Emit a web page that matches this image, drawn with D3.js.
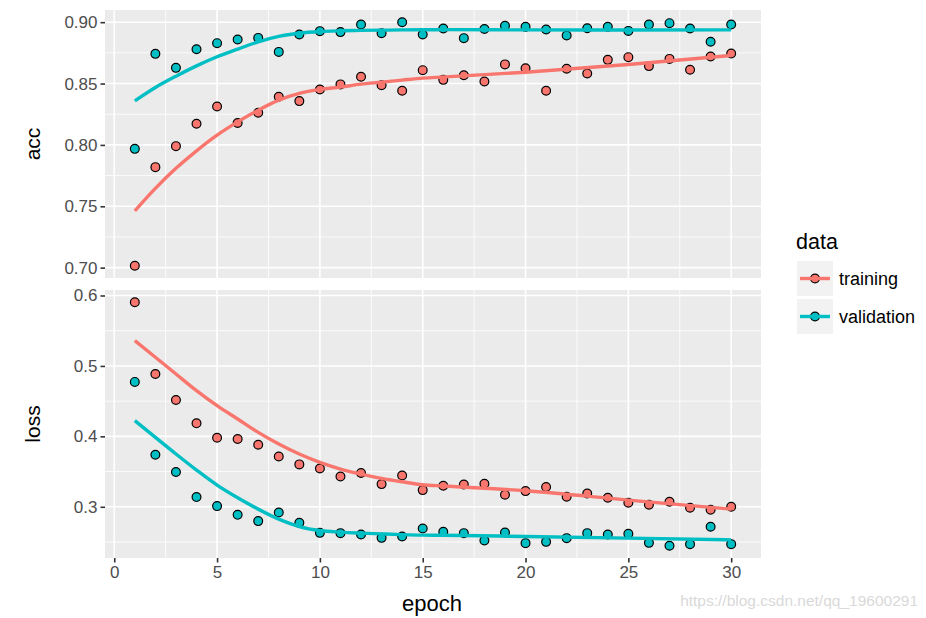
<!DOCTYPE html>
<html>
<head>
<meta charset="utf-8">
<script src="https://cdn.jsdelivr.net/npm/d3@7"></script>
<style>
  body { margin: 0; background: #fff; }
  svg { display: block; font-family: "Liberation Sans", Arial, Helvetica, sans-serif; }
</style>
</head>
<body>
<svg id="chart" width="926" height="618"></svg>
<script>
// ---------------- data ----------------
const epochs = d3.range(1, 31);
const seriesNames = ["training", "validation"];
const seriesColors = ["#F8766D", "#00BFC4"];
const panelNames = ["acc", "loss"];

const accTraining = [0.7015, 0.7819, 0.7990, 0.8172, 0.8313, 0.8178, 0.8262, 0.8392, 0.8357, 0.8452,
                     0.8493, 0.8555, 0.8487, 0.8441, 0.8609, 0.8530, 0.8568, 0.8517, 0.8656, 0.8625,
                     0.8441, 0.8620, 0.8582, 0.8693, 0.8715, 0.8642, 0.8701, 0.8612, 0.8721, 0.8745];
const accValidation = [0.7968, 0.8742, 0.8628, 0.8780, 0.8829, 0.8859, 0.8872, 0.8758, 0.8900, 0.8927,
                       0.8919, 0.8981, 0.8910, 0.9000, 0.8900, 0.8949, 0.8870, 0.8945, 0.8970, 0.8962,
                       0.8940, 0.8892, 0.8951, 0.8962, 0.8929, 0.8981, 0.8992, 0.8949, 0.8840, 0.8981];
const lossTraining = [0.5905, 0.4886, 0.4517, 0.4185, 0.3981, 0.3962, 0.3881, 0.3715, 0.3602, 0.3544,
                      0.3431, 0.3479, 0.3322, 0.3445, 0.3237, 0.3298, 0.3317, 0.3327, 0.3171, 0.3223,
                      0.3280, 0.3142, 0.3189, 0.3128, 0.3057, 0.3028, 0.3071, 0.2986, 0.2959, 0.3000];
const lossValidation = [0.4773, 0.3739, 0.3493, 0.3138, 0.3010, 0.2886, 0.2797, 0.2919, 0.2772, 0.2630,
                        0.2626, 0.2606, 0.2559, 0.2578, 0.2692, 0.2645, 0.2626, 0.2521, 0.2634, 0.2484,
                        0.2502, 0.2555, 0.2626, 0.2606, 0.2616, 0.2488, 0.2446, 0.2470, 0.2716, 0.2470];

// smoothed (loess) curves
const smoothEpochs = [1, 2, 3, 4, 5, 6, 7, 8, 9, 10, 11, 12, 13, 14, 15, 16, 20, 25, 30];
const accTrainingSmooth = [0.7463, 0.7646, 0.7809, 0.7952, 0.8080, 0.8188, 0.8283, 0.8365, 0.8420, 0.8452,
                           0.8471, 0.8495, 0.8511, 0.8528, 0.8544, 0.8553, 0.8592, 0.8655, 0.8729];
const accValidationSmooth = [0.8359, 0.8468, 0.8560, 0.8644, 0.8718, 0.8780, 0.8840, 0.8884, 0.8910, 0.8924,
                             0.8930, 0.8933, 0.8935, 0.8937, 0.8938, 0.8939, 0.8937, 0.8936, 0.8937];
const lossTrainingSmooth = [0.5360, 0.5123, 0.4886, 0.4649, 0.4436, 0.4247, 0.4056, 0.3891, 0.3749, 0.3630,
                            0.3536, 0.3465, 0.3403, 0.3355, 0.3313, 0.3295, 0.3227, 0.3095, 0.2967];
const lossValidationSmooth = [0.4223, 0.3985, 0.3749, 0.3521, 0.3308, 0.3128, 0.2967, 0.2825, 0.2720, 0.2663,
                              0.2640, 0.2626, 0.2615, 0.2605, 0.2598, 0.2596, 0.2578, 0.2555, 0.2531];

const xTicks = [0, 5, 10, 15, 20, 25, 30];
const accTicks = [0.70, 0.75, 0.80, 0.85, 0.90];
const lossTicks = [0.3, 0.4, 0.5, 0.6];

// ---------------- layout ----------------
const svg = d3.select("#chart");
const panelLeft = 105, panelRight = 761;
const panels = [
  { name: "acc", top: 10, bottom: 278, pts: [accTraining, accValidation],
    sm: [accTrainingSmooth, accValidationSmooth], ticks: accTicks, fmt: d3.format(".2f") },
  { name: "loss", top: 290, bottom: 558, pts: [lossTraining, lossValidation],
    sm: [lossTrainingSmooth, lossValidationSmooth], ticks: lossTicks, fmt: d3.format(".1f") }
];

const xExt = d3.extent(epochs);
const xPad = (xExt[1] - xExt[0]) * 0.05;
const x = d3.scaleLinear().domain([xExt[0] - xPad, xExt[1] + xPad]).range([panelLeft, panelRight]);

const tickColor = "#333333", labColor = "#4D4D4D";

panels.forEach(p => {
  const all = p.pts.flat().concat(p.sm.flat());
  const ext = d3.extent(all);
  const pad = (ext[1] - ext[0]) * 0.05;
  const y = d3.scaleLinear().domain([ext[0] - pad, ext[1] + pad]).range([p.bottom, p.top]);
  const g = svg.append("g");

  g.append("rect").attr("x", panelLeft).attr("y", p.top)
    .attr("width", panelRight - panelLeft).attr("height", p.bottom - p.top).attr("fill", "#EBEBEB");

  // minor grid
  const xd = x.domain(), yd = y.domain();
  const xMinor = xTicks.slice(0, -1).map(t => t + 2.5).filter(v => v >= xd[0] && v <= xd[1]);
  const step = p.ticks[1] - p.ticks[0];
  const yMinor = [p.ticks[0] - step / 2].concat(p.ticks.map(t => t + step / 2)).filter(v => v >= yd[0] && v <= yd[1]);
  g.selectAll(".xmin").data(xMinor).join("line")
    .attr("x1", d => x(d)).attr("x2", d => x(d)).attr("y1", p.top).attr("y2", p.bottom)
    .attr("stroke", "#fff").attr("stroke-width", 0.8);
  g.selectAll(".ymin").data(yMinor).join("line")
    .attr("y1", d => y(d)).attr("y2", d => y(d)).attr("x1", panelLeft).attr("x2", panelRight)
    .attr("stroke", "#fff").attr("stroke-width", 0.8);
  // major grid
  g.selectAll(".xmaj").data(xTicks).join("line")
    .attr("x1", d => x(d)).attr("x2", d => x(d)).attr("y1", p.top).attr("y2", p.bottom)
    .attr("stroke", "#fff").attr("stroke-width", 1.6);
  g.selectAll(".ymaj").data(p.ticks).join("line")
    .attr("y1", d => y(d)).attr("y2", d => y(d)).attr("x1", panelLeft).attr("x2", panelRight)
    .attr("stroke", "#fff").attr("stroke-width", 1.6);

  // y axis
  const ya = g.append("g").attr("transform", `translate(${panelLeft},0)`)
    .call(d3.axisLeft(y).tickValues(p.ticks).tickFormat(p.fmt).tickSize(4.5).tickPadding(3));
  ya.select(".domain").remove();
  ya.selectAll("line").attr("stroke", tickColor).attr("stroke-width", 1.6);
  ya.selectAll("text").attr("fill", labColor).style("font-size", "17px");

  // strip label
  g.append("text").attr("transform", `translate(40,${(p.top + p.bottom) / 2}) rotate(-90)`)
    .attr("text-anchor", "middle").attr("fill", "#000").style("font-size", "21px").text(p.name);

  // points
  p.pts.forEach((arr, si) => {
    g.append("g").selectAll("circle").data(arr).join("circle")
      .attr("cx", (d, i) => x(epochs[i])).attr("cy", d => y(d)).attr("r", 4.4)
      .attr("fill", seriesColors[si]).attr("stroke", "#000").attr("stroke-width", 1.2);
  });
  // smooth lines
  const line = d3.line().x((d, i) => x(smoothEpochs[i])).y(d => y(d)).curve(d3.curveMonotoneX);
  p.sm.forEach((arr, si) => {
    g.append("path").attr("d", line(arr)).attr("fill", "none")
      .attr("stroke", seriesColors[si]).attr("stroke-width", 3.4);
  });

  if (p.name === "loss") {
    const xa = g.append("g").attr("transform", `translate(0,${p.bottom})`)
      .call(d3.axisBottom(x).tickValues(xTicks).tickSize(4.5).tickPadding(3));
    xa.select(".domain").remove();
    xa.selectAll("line").attr("stroke", tickColor).attr("stroke-width", 1.6);
    xa.selectAll("text").attr("fill", labColor).style("font-size", "17px");
  }
});

// x title
svg.append("text").attr("x", (panelLeft + panelRight) / 2 - 1).attr("y", 611)
  .attr("text-anchor", "middle").attr("fill", "#000").style("font-size", "22px").text("epoch");

// legend
const lg = svg.append("g");
lg.append("text").attr("x", 796).attr("y", 249).attr("fill", "#000").style("font-size", "21.5px").text("data");
seriesNames.forEach((s, i) => {
  const ky = 261 + i * 38;
  lg.append("rect").attr("x", 797).attr("y", ky).attr("width", 36).attr("height", 35).attr("fill", "#F2F2F2");
  lg.append("circle").attr("cx", 815).attr("cy", ky + 17.5).attr("r", 4.4)
    .attr("fill", seriesColors[i]).attr("stroke", "#000").attr("stroke-width", 1.2);
  lg.append("line").attr("x1", 800).attr("x2", 830).attr("y1", ky + 17.5).attr("y2", ky + 17.5)
    .attr("stroke", seriesColors[i]).attr("stroke-width", 3.4);
  lg.append("text").attr("x", 839).attr("y", ky + 17.5).attr("dy", "0.35em")
    .attr("fill", "#000").style("font-size", "18px").text(s);
});

// watermark
svg.append("text").attr("x", 918).attr("y", 606).attr("text-anchor", "end")
  .attr("fill", "#D9D9D9").style("font-size", "15.5px").text("https://blog.csdn.net/qq_19600291");
</script>
</body>
</html>
